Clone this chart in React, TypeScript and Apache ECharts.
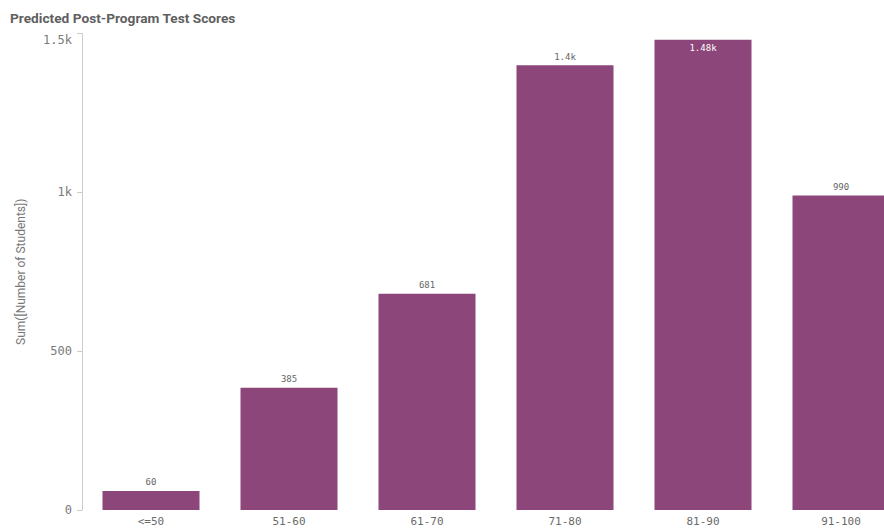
import React, { useEffect, useRef } from "react";
import * as echarts from "echarts";

const categories = ["<=50", "51-60", "61-70", "71-80", "81-90", "91-100"];
const students = [60, 385, 681, 1400, 1480, 990];
const yTicks = [0, 500, 1000, 1500];

const fmtLabel = (v: number) => {
  if (v >= 1000) {
    const k = v / 1000;
    return `${parseFloat(k.toFixed(2))}k`;
  }
  return String(v);
};

export default function App() {
  const ref = useRef<HTMLDivElement>(null);
  useEffect(() => {
    if (!ref.current) return;
    const chart = echarts.init(ref.current, undefined, { renderer: "svg" });
    const barColor = "#8c4679";
    chart.setOption({
      animation: false,
      backgroundColor: "#ffffff",
      title: {
        text: "Predicted Post-Program Test Scores",
        left: 5,
        top: 6,
        textStyle: {
          fontFamily: "Roboto",
          fontWeight: "bold",
          fontSize: 13.7,
          color: "#606060",
        },
      },
      grid: { left: 82, right: 0, top: 33.5, bottom: 19, containLabel: false },
      xAxis: {
        type: "category",
        data: categories,
        axisLine: { show: false },
        axisTick: { show: false },
        axisLabel: {
          margin: 6,
          fontFamily: "DejaVu Sans Mono",
          fontSize: 11,
          color: "#6a6a6a",
          interval: 0,
        },
      },
      yAxis: {
        type: "value",
        min: 0,
        max: 1500,
        interval: 500,
        name: "Sum([Number of Students])",
        nameLocation: "middle",
        nameGap: 55,
        nameTextStyle: {
          fontFamily: "Roboto",
          fontSize: 12,
          color: "#777777",
        },
        axisLine: { show: true, lineStyle: { color: "#cccccc", width: 1 } },
        axisTick: { show: true, length: 5, lineStyle: { color: "#cccccc" } },
        splitLine: { show: false },
        axisLabel: {
          margin: 10,
          fontFamily: "DejaVu Sans Mono",
          fontSize: 12,
          color: "#7a7a7a",
          verticalAlignMaxLabel: "top",
          formatter: (v: number) =>
            yTicks.includes(v) ? (v >= 1000 ? `${v / 1000}k` : String(v)) : "",
        },
      },
      series: [
        {
          type: "bar",
          data: students.map((v, i) => ({
            value: v,
            label:
              i === 4
                ? { position: "insideTop", color: "#ffffff", distance: 4 }
                : undefined,
          })),
          barWidth: 97,
          itemStyle: { color: barColor },
          label: {
            show: true,
            position: "top",
            distance: 4,
            fontFamily: "DejaVu Sans Mono",
            fontSize: 9,
            color: "#666666",
            formatter: (p: any) => fmtLabel(p.value),
          },
        },
      ],
    });
    return () => chart.dispose();
  }, []);
  return (
    <div
      style={{
        position: "fixed",
        left: 0,
        top: 0,
        width: 884,
        height: 529,
        overflow: "hidden",
        background: "#fff",
      }}
    >
      <div ref={ref} style={{ width: 910, height: 529 }} />
    </div>
  );
}
